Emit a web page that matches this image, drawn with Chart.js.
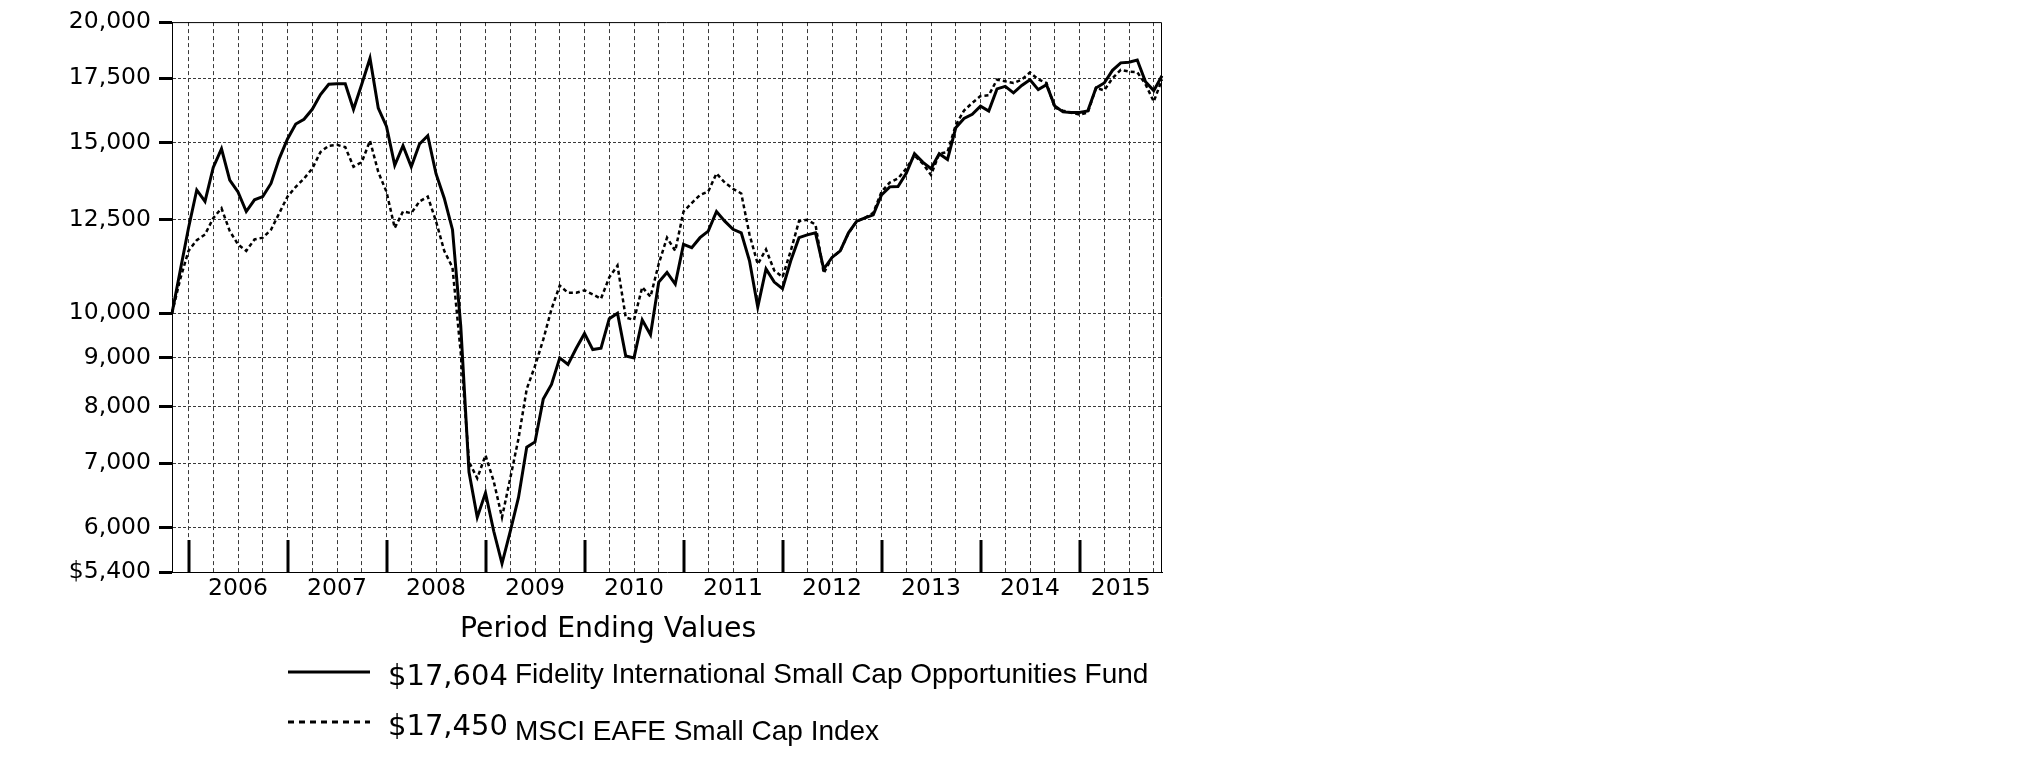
<!DOCTYPE html>
<html><head><meta charset="utf-8">
<script src="https://cdn.jsdelivr.net/npm/chart.js@4.4.1/dist/chart.umd.min.js"></script>
<style>
html,body{margin:0;padding:0;background:#fff;}
#wrap{position:relative;width:2026px;height:774px;overflow:hidden;background:#fff;}
canvas{position:absolute;left:0;top:0;}
.t{position:absolute;white-space:nowrap;line-height:1;color:#000;}
.dj{font-family:"DejaVu Sans";}
.lb{font-family:"Liberation Sans",Arial,sans-serif;}
</style></head><body>
<div id="wrap">
<canvas id="c" width="2026" height="774"></canvas>
<svg id="samples" style="position:absolute;left:288px;top:660px" width="84" height="70"></svg>
</div>
<script>
// ---- categories (month ends) ----
const months = [
 'Oct 2005','Nov 2005','Dec 2005',
 'Jan 2006','Feb 2006','Mar 2006','Apr 2006','May 2006','Jun 2006','Jul 2006','Aug 2006','Sep 2006','Oct 2006','Nov 2006','Dec 2006',
 'Jan 2007','Feb 2007','Mar 2007','Apr 2007','May 2007','Jun 2007','Jul 2007','Aug 2007','Sep 2007','Oct 2007','Nov 2007','Dec 2007',
 'Jan 2008','Feb 2008','Mar 2008','Apr 2008','May 2008','Jun 2008','Jul 2008','Aug 2008','Sep 2008','Oct 2008','Nov 2008','Dec 2008',
 'Jan 2009','Feb 2009','Mar 2009','Apr 2009','May 2009','Jun 2009','Jul 2009','Aug 2009','Sep 2009','Oct 2009','Nov 2009','Dec 2009',
 'Jan 2010','Feb 2010','Mar 2010','Apr 2010','May 2010','Jun 2010','Jul 2010','Aug 2010','Sep 2010','Oct 2010','Nov 2010','Dec 2010',
 'Jan 2011','Feb 2011','Mar 2011','Apr 2011','May 2011','Jun 2011','Jul 2011','Aug 2011','Sep 2011','Oct 2011','Nov 2011','Dec 2011',
 'Jan 2012','Feb 2012','Mar 2012','Apr 2012','May 2012','Jun 2012','Jul 2012','Aug 2012','Sep 2012','Oct 2012','Nov 2012','Dec 2012',
 'Jan 2013','Feb 2013','Mar 2013','Apr 2013','May 2013','Jun 2013','Jul 2013','Aug 2013','Sep 2013','Oct 2013','Nov 2013','Dec 2013',
 'Jan 2014','Feb 2014','Mar 2014','Apr 2014','May 2014','Jun 2014','Jul 2014','Aug 2014','Sep 2014','Oct 2014','Nov 2014','Dec 2014',
 'Jan 2015','Feb 2015','Mar 2015','Apr 2015','May 2015','Jun 2015','Jul 2015','Aug 2015','Sep 2015','Oct 2015'
];

// ---- series values ----
const fundValues = [
 10000, 11070, 12250, 13410, 13050, 14150, 14790, 13730, 13350, 12740, 13100, 13200,
 13620, 14450, 15140, 15690, 15870, 16250, 16830, 17250, 17270, 17270, 16250, 17250,
 18350, 16300, 15600, 14220, 14900, 14170, 14960, 15260, 13940, 13150, 12200, 9700,
 6850, 6150, 6520, 5950, 5510, 5950, 6450, 7270, 7360, 8150, 8440, 8990,
 8850, 9200, 9530, 9170, 9200, 9870, 10000, 9030, 8990, 9840, 9500, 10770,
 11020, 10720, 11780, 11690, 11970, 12160, 12740, 12450, 12210, 12110, 11330, 10150,
 11110, 10770, 10600, 11330, 11970, 12050, 12110, 11110, 11420, 11600, 12110, 12450,
 12550, 12640, 13250, 13510, 13520, 13950, 14620, 14330, 14110, 14620, 14420, 15550,
 15900, 16060, 16370, 16185, 17060, 17165, 16900, 17200, 17436, 17030, 17232, 16376,
 16150, 16130, 16130, 16185, 17100, 17300, 17830, 18150, 18176, 18276, 17350, 16990,
 17604
];
const indexValues = [
 10000, 10850, 11600, 11900, 12060, 12540, 12840, 12160, 11780, 11600, 11920, 11970,
 12200, 12690, 13200, 13510, 13780, 14110, 14680, 14900, 14930, 14850, 14170, 14330,
 15080, 14000, 13350, 12250, 12740, 12690, 13050, 13200, 12450, 11600, 11150, 9100,
 7020, 6750, 7130, 6700, 6150, 6750, 7420, 8350, 8820, 9390, 10100, 10680,
 10500, 10500, 10560, 10460, 10350, 10890, 11200, 9900, 9840, 10640, 10400, 11250,
 11970, 11600, 12740, 13000, 13250, 13360, 13950, 13650, 13450, 13300, 12060, 11240,
 11640, 11070, 10900, 11600, 12450, 12490, 12350, 11000, 11420, 11600, 12100, 12450,
 12550, 12700, 13350, 13650, 13780, 14110, 14560, 14280, 13900, 14620, 14680, 15650,
 16200, 16500, 16770, 16800, 17440, 17370, 17300, 17440, 17740, 17450, 17300, 16310,
 16200, 16120, 16050, 16120, 17100, 17000, 17500, 17850, 17780, 17750, 17250, 16550,
 17450
];

// ---- tick labels / names ----
const yTickValues = [5400, 6000, 7000, 8000, 9000, 10000, 12500, 15000, 17500, 20000];
const seriesNames = ['Fidelity International Small Cap Opportunities Fund', 'MSCI EAFE Small Cap Index'];
const legendTitle = 'Period Ending Values';

// ---- derived helpers ----
const isQuarterEnd = m => /^(Mar|Jun|Sep|Dec)/.test(m);
const yearEndIdx = months.map((m, i) => m.startsWith('Dec') ? i : -1).filter(i => i >= 0);
const yearLabelAt = {};
yearEndIdx.forEach((s, k) => {
  const e = k + 1 < yearEndIdx.length ? yearEndIdx[k + 1] : months.length - 1;
  yearLabelAt[Math.round((s + e) / 2)] = months[s + 1].slice(-4);
});
const fmt = v => Number(v).toLocaleString('en-US');

const framePlugin = {
  id: 'frame',
  afterDraw(chart) {
    const {ctx, chartArea: a, scales: {x}} = chart;
    ctx.save();
    ctx.strokeStyle = '#000';
    ctx.lineWidth = 1;
    ctx.beginPath();
    ctx.moveTo(a.left, a.top + 0.5);
    ctx.lineTo(a.right - 0.5, a.top + 0.5);
    ctx.lineTo(a.right - 0.5, a.bottom);
    ctx.stroke();
    ctx.lineWidth = 3;
    yearEndIdx.forEach(i => {
      const px = Math.round(x.getPixelForValue(i));
      ctx.beginPath();
      ctx.moveTo(px, a.bottom);
      ctx.lineTo(px, a.bottom - 32);
      ctx.stroke();
    });
    ctx.restore();
  }
};

new Chart(document.getElementById('c'), {
  type: 'line',
  data: {
    labels: months,
    datasets: [
      {label: seriesNames[0], data: fundValues, borderColor: '#000', borderWidth: 3, pointRadius: 0, tension: 0, fill: false},
      {label: seriesNames[1], data: indexValues, borderColor: '#000', borderWidth: 2.5, borderDash: [4, 3], pointRadius: 0, tension: 0, fill: false}
    ]
  },
  options: {
    responsive: false,
    animation: false,
    devicePixelRatio: 1,
    layout: {padding: {left: 0, top: 15, right: 864, bottom: 152}},
    plugins: {legend: {display: false}, tooltip: {enabled: false}},
    scales: {
      x: {
        type: 'category',
        offset: false,
        grid: {
          color: c => isQuarterEnd(months[c.index] || '') ? '#3a3a3a' : 'rgba(0,0,0,0)',
          lineWidth: 1,
          drawTicks: false
        },
        border: {display: true, color: '#000', width: 1, dash: [4, 3]},
        ticks: {
          autoSkip: false, maxRotation: 0, minRotation: 0, padding: 3, color: '#000',
          font: {family: 'DejaVu Sans', size: 23.5},
          callback: (v, i) => yearLabelAt[i] || ''
        },
        afterFit: s => { s.height = 50; }
      },
      y: {
        type: 'logarithmic',
        min: 5400,
        max: 20000,
        afterBuildTicks: s => { s.ticks = yTickValues.map(v => ({value: v})); },
        grid: {
          color: c => (c.tick && (c.tick.value === 5400 || c.tick.value === 20000)) ? 'rgba(0,0,0,0)' : '#3a3a3a',
          lineWidth: 1,
          drawTicks: true,
          tickLength: 13,
          tickWidth: 3,
          tickColor: '#000'
        },
        border: {display: true, color: '#000', width: 1, dash: [3, 2]},
        ticks: {
          padding: 8, color: '#000',
          font: {family: 'DejaVu Sans', size: 23.5},
          callback: v => (v === yTickValues[0] ? '$' : '') + fmt(v)
        },
        afterFit: s => { s.width = 172; }
      }
    }
  },
  plugins: [framePlugin]
});

// ---- legend (HTML text) ----
const wrap = document.getElementById('wrap');
function addText(txt, cls, left, top, size) {
  const d = document.createElement('div');
  d.className = 't ' + cls;
  d.style.left = left + 'px';
  d.style.top = top + 'px';
  d.style.fontSize = size + 'px';
  d.textContent = txt;
  wrap.appendChild(d);
}
addText(legendTitle, 'dj', 460, 614, 28.3);
const lastVals = [fundValues[fundValues.length - 1], indexValues[indexValues.length - 1]];
addText('$' + fmt(lastVals[0]), 'dj', 388, 661, 29);
addText(seriesNames[0], 'lb', 515, 659.5, 28);
addText('$' + fmt(lastVals[1]), 'dj', 388, 711, 29);
addText(seriesNames[1], 'lb', 515, 716.5, 28);
document.getElementById('samples').innerHTML =
  '<line x1="0" y1="12" x2="82" y2="12" stroke="#000" stroke-width="3"/>' +
  '<line x1="0" y1="62" x2="82" y2="62" stroke="#000" stroke-width="3" stroke-dasharray="6,5"/>';
</script>
</body></html>
